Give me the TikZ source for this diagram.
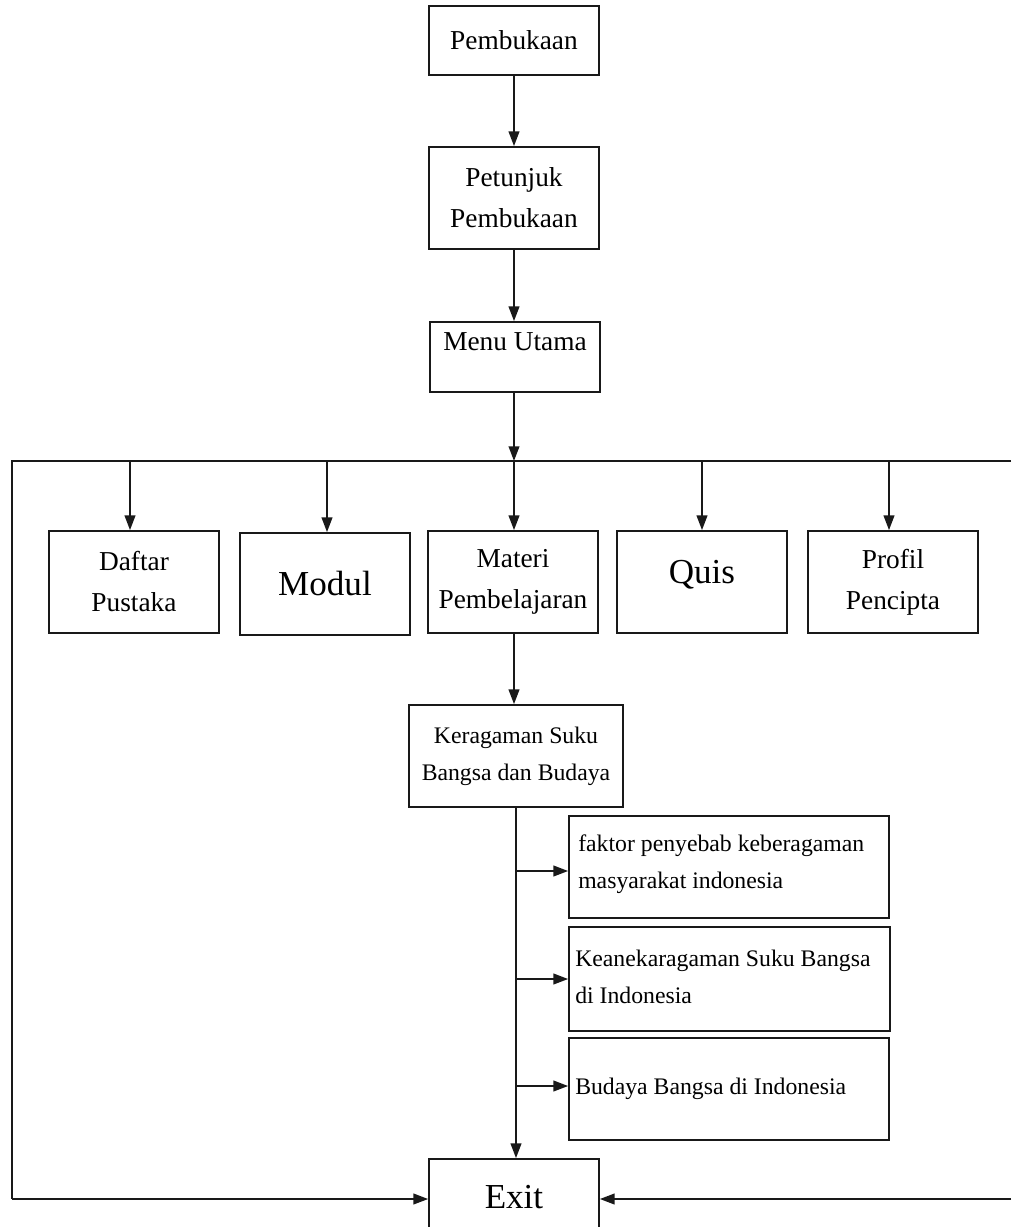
\documentclass[tikz,border=0pt]{standalone}
\usepackage{fontspec}
\setmainfont{Liberation Serif}
\usetikzlibrary{arrows.meta}
\begin{document}
\begin{tikzpicture}[x=0.75pt,y=-0.75pt,
  box/.style={draw=black!90,line width=1.3pt,inner sep=0pt,align=center},
  txt/.style={inner sep=0pt,align=center},
  ln/.style={draw=black!90,line width=1.3pt},
  arr/.style={ln,-{Triangle[length=11pt,width=8pt]}},
  fa/.style={font=\fontsize{20.5}{30.75}\selectfont},
  fb/.style={font=\fontsize{26.3}{32}\selectfont},
  fc/.style={font=\fontsize{17.8}{27.75}\selectfont}]
\clip (0,0) rectangle (1011,1227);
\fill[white] (0,0) rectangle (1011,1227);

% top column
\node[box,fa,minimum width=127.5pt,minimum height=51.75pt] (pemb) at (514,40.5) {Pembukaan};
\node[box,fa,minimum width=127.5pt,minimum height=76.5pt] (pet) at (514,198) {Petunjuk\\Pembukaan};
\node[box,minimum width=127.5pt,minimum height=52.5pt] (menu) at (515,357) {};
\node[txt,fa] (menut) at (515,342) {Menu Utama};

% second row
\node[box,fa,minimum width=127.5pt,minimum height=76.5pt] (daftar) at (134,582) {Daftar\\Pustaka};
\node[box,fb,minimum width=127.5pt,minimum height=76.5pt] (modul) at (325,584) {Modul};
\node[box,fa,minimum width=127.5pt,minimum height=76.5pt] (materi) at (513,582) {Materi\\Pembelajaran};
\node[box,minimum width=127.5pt,minimum height=76.5pt] (quis) at (702,582) {};
\node[txt,fb] (quist) at (702,575) {Quis};
\node[box,fa,minimum width=127.5pt,minimum height=76.5pt] (profil) at (893,582) {Profil\\Pencipta};

% Keragaman
\node[box,fc,minimum width=160.5pt,minimum height=76.5pt] (ker) at (516,756) {Keragaman Suku\\Bangsa dan Budaya};

% sub boxes
\node[box,minimum width=240pt,minimum height=76.5pt] (f1) at (729,867) {};
\node[txt,fc,anchor=west,align=left] (f1t) at (578,864) {faktor penyebab keberagaman\\masyarakat indonesia};
\node[box,minimum width=240.75pt,minimum height=78pt] (f2) at (729.5,979) {};
\node[txt,fc,anchor=west,align=left] (f2t) at (575,977) {Keanekaragaman Suku Bangsa\\di Indonesia};
\node[box,minimum width=240pt,minimum height=76.5pt] (f3) at (729,1089) {};
\node[txt,fc,anchor=west,align=left] (f3t) at (575,1089) {Budaya Bangsa di Indonesia};

% Exit
\node[box,minimum width=127.5pt,minimum height=66pt] (exit) at (514,1203) {};
\node[txt,fb] (exitt) at (514,1197) {Exit};

% coordinates
\coordinate (jm) at (514,461);
\coordinate (tl) at (12,461);
\coordinate (tr) at (1011,461);
\coordinate (bl) at (12,1199);
\coordinate (br) at (1011,1199);
\coordinate (jd) at (130,461);
\coordinate (jo) at (327,461);
\coordinate (jq) at (702,461);
\coordinate (jp) at (889,461);
\coordinate (b1) at (516,871);
\coordinate (b2) at (516,979);
\coordinate (b3) at (516,1086);

% connectors
\draw[arr] (pemb.south) -- (pet.north);
\draw[arr] (pet.south) -- (pet.south |- menu.north);
\draw[arr] (menu.south -| jm) -- (jm);
\draw[ln] (tr) -- (tl) -- (bl);
\draw[arr] (bl) -- (bl -| exit.west);
\draw[arr] (br) -- (br -| exit.east);
\draw[arr] (jd) -- (jd |- daftar.north);
\draw[arr] (jo) -- (jo |- modul.north);
\draw[arr] (jm) -- (jm |- materi.north);
\draw[arr] (jq) -- (jq |- quis.north);
\draw[arr] (jp) -- (jp |- profil.north);
\draw[arr] (jm |- materi.south) -- (jm |- ker.north);
\draw[arr] (ker.south) -- (ker.south |- exit.north);
\draw[arr] (b1) -- (b1 -| f1.west);
\draw[arr] (b2) -- (b2 -| f2.west);
\draw[arr] (b3) -- (b3 -| f3.west);
\end{tikzpicture}
\end{document}
